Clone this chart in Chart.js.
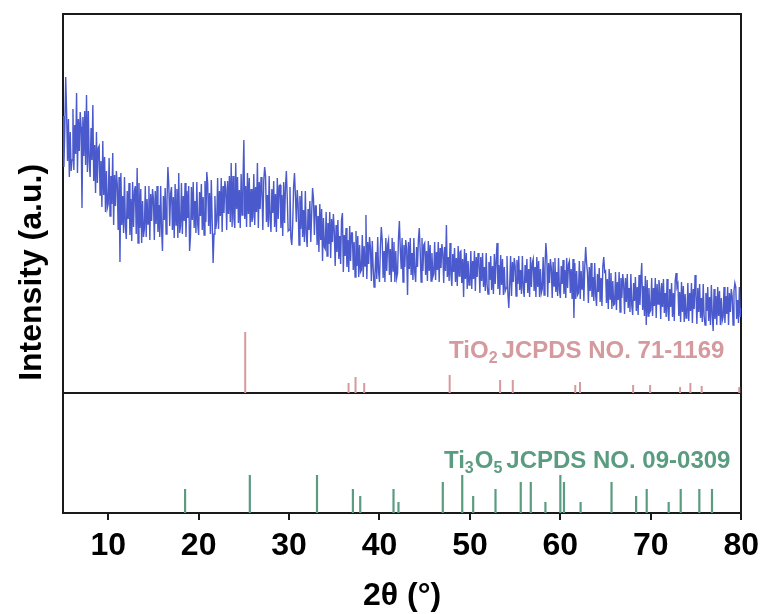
<!DOCTYPE html>
<html><head><meta charset="utf-8">
<script src="https://cdn.jsdelivr.net/npm/chart.js@4.4.1/dist/chart.umd.min.js"></script>
<style>html,body{margin:0;padding:0;background:#fff}</style>
</head><body>
<canvas id="c" width="766" height="614" style="width:766px;height:614px;display:block"></canvas>
<script>
// ---- data ----
const xrdStart = 5;      // 2θ of first sample
const xrdStep = 0.1;     // 2θ sampling step
const xrdIntensity = [
397,346,384,436,400,352,394,336,381,342,
353,404,343,388,359,420,340,394,362,401,
386,305,396,357,402,348,418,341,402,351,
336,385,353,408,332,368,320,381,330,365,
367,318,352,306,372,318,356,301,342,305,
309,355,297,337,309,360,288,338,307,342,
329,283,336,251,340,288,317,280,336,287,
274,322,294,330,278,314,272,331,286,322,
327,279,345,270,330,285,324,270,312,276,
284,327,276,314,289,327,273,319,292,324,
314,273,322,289,327,281,308,276,327,284,
262,317,293,325,279,312,346,328,287,320,
326,283,316,275,329,288,324,275,340,280,
287,330,279,317,292,330,276,322,295,327,
262,277,326,293,331,285,312,280,331,288,
278,321,297,329,283,316,278,332,291,341,
330,287,320,279,333,292,250,279,317,284,
292,335,284,322,297,335,281,327,300,332,
324,283,332,299,337,291,350,286,337,294,
285,350,304,336,290,323,285,339,298,331,
373,294,327,286,340,299,335,286,324,291,
296,339,288,326,301,350,285,331,304,336,
324,283,332,346,337,291,318,286,337,294,
281,324,300,332,286,319,281,335,294,327,
328,285,318,277,331,290,326,342,315,282,
283,326,275,268,288,326,340,318,291,323,
309,268,317,284,322,276,303,271,322,279,
266,304,283,312,271,300,325,314,278,307,
307,268,297,261,309,273,304,252,295,266,
264,301,257,290,269,301,255,294,271,299,
282,247,288,261,293,254,277,249,293,300,
241,278,257,285,246,273,241,287,252,280,
280,243,271,236,282,247,277,236,268,241,
243,278,236,267,247,298,234,271,249,276,
265,232,272,245,226,239,261,234,276,241,
231,266,286,273,235,262,231,275,242,268,
273,238,264,231,275,242,271,231,262,235,
240,275,292,264,244,275,231,268,246,273,
264,218,271,244,275,238,260,233,275,240,
231,266,246,273,285,262,231,275,242,268,
270,238,262,232,272,242,268,232,260,236,
239,271,233,261,243,271,231,265,245,269,
260,230,266,242,288,236,256,232,270,238,
227,259,241,265,231,255,227,267,237,261,
262,230,254,216,264,234,260,224,252,228,
230,262,224,252,234,262,222,256,236,260,
250,220,256,232,260,226,246,222,260,228,
219,251,233,257,223,247,219,259,229,253,
270,224,248,218,258,228,254,218,246,222,
225,257,219,205,229,257,217,251,231,255,
247,217,253,229,257,223,243,219,257,225,
216,248,230,254,220,244,216,256,226,250,
254,222,246,216,256,226,252,216,244,220,
224,256,218,246,270,256,216,250,230,254,
245,215,251,227,255,221,241,217,255,223,
215,247,229,253,219,243,215,255,225,249,
252,220,244,214,254,195,250,214,242,218,
220,252,214,242,224,252,212,246,266,250,
240,210,246,222,250,216,236,212,250,218,
207,239,221,245,211,235,207,247,256,241,
242,210,234,204,244,214,240,204,232,208,
209,241,203,231,213,241,201,235,215,239,
229,199,235,211,239,205,225,201,239,207,
198,230,212,236,202,226,198,238,208,232,
250,203,227,197,237,188,233,197,225,201,
203,235,197,225,207,235,195,229,209,233,
224,194,230,206,234,200,220,196,234,202,
192,224,206,230,196,220,192,232,240,226,
229,197,221,191,231,201,227,191,219,195,
198,230,192,220,202,230,190,224,204,238,
219,189,225,201,229,195,215,191,229,197,
188,220,202,226,192,216,188,228,198,182,
224,194,217,188,226,197,222,188,215,192,
196,226,190,217,199,226,188,220,201,224,
217,188,222,230,226,194,213,190,226,196,
205
];
const tio2Pos = [25.15,36.58,37.35,38.31,47.76,53.34,54.74,61.65,62.17,68.05,69.93,73.24,74.38,75.63,79.78];
const tio2Int = [61,10,16,10,18,13,13,8,11,8,8,6,10,7,6];
const ti3o5Pos = [18.5,25.66,33.09,37.06,37.87,41.55,42.1,47.0,49.15,50.36,52.83,55.62,56.73,58.35,60.0,60.4,62.24,65.66,68.38,69.55,71.98,73.31,75.37,76.77];
const ti3o5Int = [24,38,38,24,17,24,11,31,38,17,24,31,31,11,38,31,11,31,17,24,11,24,24,24];
const xTicks = [10,20,30,40,50,60,70,80];

const tio2Label = ['TiO', '2', 'JCPDS NO. 71-1169'];
const ti3o5Label = ['Ti', '3', 'O', '5', 'JCPDS NO. 09-0309'];

// ---- styling / assembly ----
const FONT = "'Liberation Sans', Arial, Helvetica, sans-serif";
const panelSplit = 120;     // a.u. level of the divider between the two panels
const yMax = 499;
const blue = '#4a5acc';
const pink = '#d49a9e';
const green = '#5a9c80';
const frame = '#1a1a1a';

function sticks(pos, ints, base) {
  const d = [];
  pos.forEach((p, i) => { d.push({x: p, y: base}, {x: p, y: base + ints[i]}, {x: p, y: null}); });
  return d;
}
const xrdData = xrdIntensity.map((v, i) => ({x: +(xrdStart + i * xrdStep).toFixed(2), y: v}));

const labelPlugin = {
  id: 'phaseLabels',
  afterDatasetsDraw(chart) {
    const {ctx, scales: {x, y}} = chart;
    const draw = (parts, subs, x0, y0, color) => {
      ctx.save();
      ctx.fillStyle = color;
      ctx.textAlign = 'left';
      ctx.textBaseline = 'alphabetic';
      let cx = x0;
      parts.forEach((t, i) => {
        const sub = subs[i];
        ctx.font = sub ? 'bold 16px ' + FONT : 'bold 24px ' + FONT;
        ctx.fillText(t, cx, sub ? y0 + 5 : y0);
        cx += ctx.measureText(t).width + (sub ? (i === parts.length - 2 ? 4 : 1) : 0);
      });
      ctx.restore();
    };
    draw(tio2Label, [false, true, false], x.getPixelForValue(47.7), y.getPixelForValue(155), pink);
    draw(ti3o5Label, [false, true, false, true, false], x.getPixelForValue(47.13), y.getPixelForValue(45), green);
  }
};

new Chart(document.getElementById('c'), {
  type: 'line',
  data: {
    datasets: [
      {data: xrdData, borderColor: blue, borderWidth: 1.4, pointRadius: 0, tension: 0, fill: false},
      {data: sticks(tio2Pos, tio2Int, panelSplit), borderColor: pink, borderWidth: 2, pointRadius: 0, spanGaps: false, fill: false},
      {data: sticks(ti3o5Pos, ti3o5Int, 0), borderColor: green, borderWidth: 2.2, pointRadius: 0, spanGaps: false, fill: false}
    ]
  },
  options: {
    responsive: false,
    animation: false,
    events: [],
    layout: {padding: {top: 14, right: 23, left: 0, bottom: 0}},
    plugins: {legend: {display: false}, tooltip: {enabled: false}},
    scales: {
      x: {
        type: 'linear', position: 'bottom', min: 5, max: 80,
        afterBuildTicks: s => { s.ticks = xTicks.map(v => ({value: v})); },
        afterFit: s => { s.height = 101; },
        grid: {display: true, drawOnChartArea: false, drawTicks: true, tickLength: 7, color: frame, lineWidth: 2},
        border: {display: true, color: frame, width: 2},
        ticks: {color: '#000', padding: 7, font: {family: FONT, size: 32, weight: 'bold'}, maxRotation: 0},
        title: {display: true, text: '2θ (°)', color: '#000', padding: {top: 0, bottom: -1}, font: {family: FONT, size: 32, weight: 'bold'}}
      },
      x2: {
        type: 'linear', position: 'top', min: 5, max: 80,
        grid: {display: false}, ticks: {display: false},
        border: {display: true, color: frame, width: 2},
        afterFit: s => { s.height = 0; }
      },
      y: {
        type: 'linear', position: 'left', min: 0, max: yMax,
        afterBuildTicks: s => { s.ticks = [{value: 0}, {value: panelSplit}, {value: yMax}]; },
        afterFit: s => { s.width = 63; },
        grid: {display: true, drawTicks: false, lineWidth: 2,
               color: c => (c.tick && c.tick.value === panelSplit) ? frame : 'rgba(0,0,0,0)'},
        border: {display: true, color: frame, width: 2},
        ticks: {display: false},
        title: {display: true, text: 'Intensity (a.u.)  ', color: '#000', padding: {top: 13, bottom: 0}, font: {family: FONT, size: 32, weight: 'bold'}}
      },
      y2: {
        type: 'linear', position: 'right', min: 0, max: yMax,
        grid: {display: false}, ticks: {display: false},
        border: {display: true, color: frame, width: 2},
        afterFit: s => { s.width = 0; }
      }
    }
  },
  plugins: [labelPlugin]
});
</script>
</body></html>
